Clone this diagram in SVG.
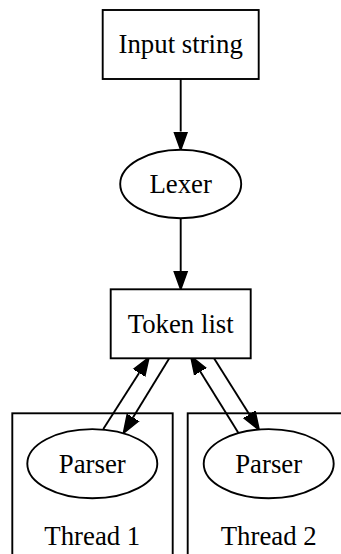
<svg xmlns="http://www.w3.org/2000/svg" width="341" height="554" viewBox="0 0 341 554">
<style>
.n{fill:#fff;stroke:#000;stroke-width:1.9}
.c{fill:none;stroke:#000;stroke-width:1.9}
.e{fill:none;stroke:#000;stroke-width:1.9}
text{font-family:"Liberation Serif","Times New Roman",serif;font-size:26.8px;fill:#000;text-anchor:middle}
</style>
<defs>
<marker id="ah" markerUnits="userSpaceOnUse" viewBox="0 -8 22 16" markerWidth="22" markerHeight="16" refX="0" refY="0" orient="auto">
<path d="M0,-6.7 L18.5,0 L0,6.7 Z" fill="#000" stroke="#000" stroke-width="1.5"/>
</marker>
</defs>
<rect width="341" height="554" fill="#fff"/>
<g id="cluster1">
<rect class="c" x="12.3" y="413.3" width="160.4" height="160"/>
<text x="92.3" y="545">Thread 1</text>
</g>
<g id="cluster2">
<rect class="c" x="187.7" y="413.3" width="170" height="160"/>
<text x="268.7" y="545">Thread 2</text>
</g>
<g id="edges">
<line class="e" x1="180.7" y1="79" x2="180.7" y2="131.5" marker-end="url(#ah)"/>
<line class="e" x1="180.7" y1="218" x2="180.7" y2="271" marker-end="url(#ah)"/>
<line class="e" x1="103.3" y1="429" x2="139.1" y2="372.9" marker-end="url(#ah)"/>
<line class="e" x1="169.3" y1="358.3" x2="133" y2="417.5" marker-end="url(#ah)"/>
<line class="e" x1="238.3" y1="432.7" x2="200.4" y2="371.7" marker-end="url(#ah)"/>
<line class="e" x1="214" y1="358.3" x2="249.4" y2="414.4" marker-end="url(#ah)"/>
</g>
<g id="input">
<rect class="n" x="102.7" y="10" width="156" height="69"/>
<text x="180.7" y="53.3">Input string</text>
</g>
<g id="lexer">
<ellipse class="n" cx="180.7" cy="184" rx="60.5" ry="34.2"/>
<text x="180.7" y="193.3">Lexer</text>
</g>
<g id="tokens">
<rect class="n" x="110.7" y="289.3" width="140" height="69"/>
<text x="180.7" y="333.3">Token list</text>
</g>
<g id="parser1">
<ellipse class="n" cx="92.3" cy="463.7" rx="65" ry="34.6"/>
<text x="92.3" y="472.7">Parser</text>
</g>
<g id="parser2">
<ellipse class="n" cx="268.7" cy="463.7" rx="65" ry="34.6"/>
<text x="268.7" y="472.7">Parser</text>
</g>
</svg>
